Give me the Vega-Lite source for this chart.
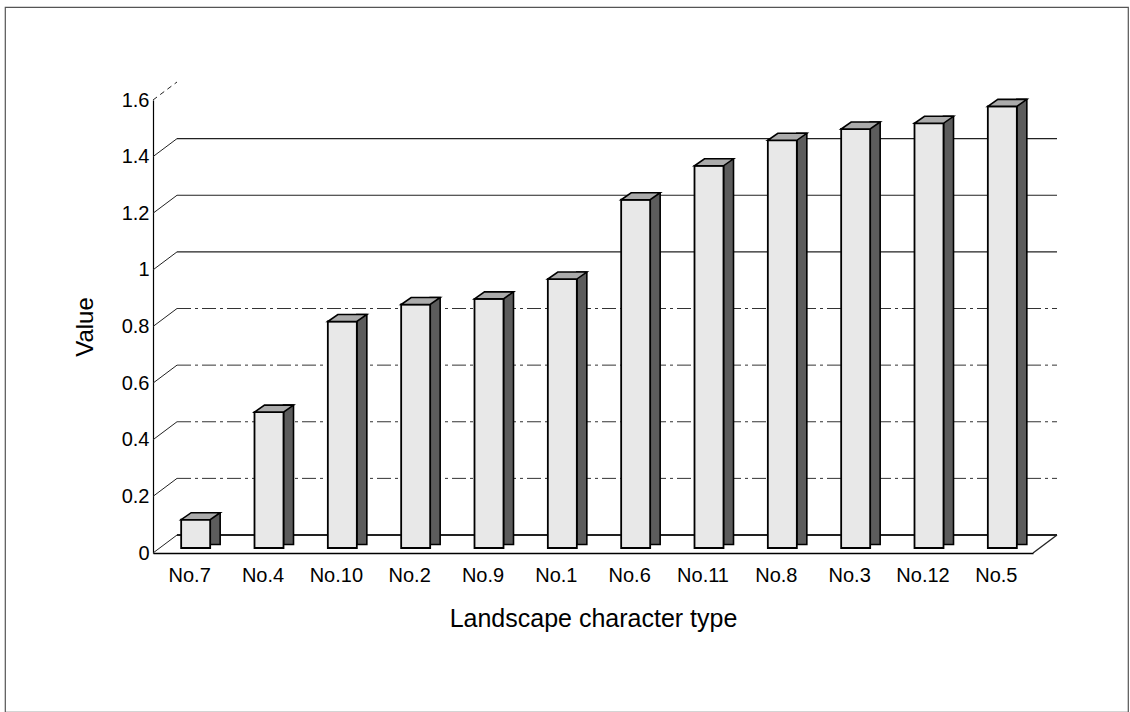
{
  "$schema": "https://vega.github.io/schema/vega-lite/v6.json",
  "width": 1123,
  "height": 705,
  "autosize": {"type": "none"},
  "padding": {"left": 5, "top": 7, "right": 2, "bottom": 0},
  "background": "white",
  "config": {
    "view": {"stroke": "#555", "strokeWidth": 1.2},
    "font": "Liberation Sans"
  },
  "datasets": {
    "bars": [
      {"type": "No.7", "value": 0.10},
      {"type": "No.4", "value": 0.48},
      {"type": "No.10", "value": 0.80},
      {"type": "No.2", "value": 0.86},
      {"type": "No.9", "value": 0.88},
      {"type": "No.1", "value": 0.95},
      {"type": "No.6", "value": 1.23},
      {"type": "No.11", "value": 1.35},
      {"type": "No.8", "value": 1.44},
      {"type": "No.3", "value": 1.48},
      {"type": "No.12", "value": 1.50},
      {"type": "No.5", "value": 1.56}
    ],
    "gridDash": [{"v": 0.2}, {"v": 0.4}, {"v": 0.6}, {"v": 0.8}],
    "gridSolid": [{"v": 1.0}, {"v": 1.2}, {"v": 1.4}],
    "floor": [{"v": 0}],
    "diag": [{"v": 0}, {"v": 0.2}, {"v": 0.4}, {"v": 0.6}, {"v": 0.8}, {"v": 1.0}, {"v": 1.2}, {"v": 1.4}],
    "diagTop": [{"v": 1.6}]
  },
  "layer": [
    {
      "data": {"name": "gridDash"},
      "mark": {"type": "rule", "xOffset": 24, "x2Offset": 24, "yOffset": -18, "stroke": "#333", "strokeWidth": 1, "strokeDash": [14, 4, 3, 4]},
      "encoding": {
        "x": {"datum": "No.7", "type": "nominal", "bandPosition": 0, "title": "Landscape character type"},
        "x2": {"datum": "No.5", "bandPosition": 1},
        "y": {"field": "v", "type": "quantitative", "title": "Value"}
      }
    },
    {
      "data": {"name": "gridSolid"},
      "mark": {"type": "rule", "xOffset": 24, "x2Offset": 24, "yOffset": -18, "stroke": "#222", "strokeWidth": 1.1},
      "encoding": {
        "x": {"datum": "No.7", "type": "nominal", "bandPosition": 0, "title": "Landscape character type"},
        "x2": {"datum": "No.5", "bandPosition": 1},
        "y": {"field": "v", "type": "quantitative", "title": "Value"}
      }
    },
    {
      "data": {"name": "floor"},
      "mark": {"type": "rule", "xOffset": 24, "x2Offset": 24, "yOffset": -18, "stroke": "#222", "strokeWidth": 1.8},
      "encoding": {
        "x": {"datum": "No.7", "type": "nominal", "bandPosition": 0, "title": "Landscape character type"},
        "x2": {"datum": "No.5", "bandPosition": 1},
        "y": {"field": "v", "type": "quantitative", "title": "Value"}
      }
    },
    {
      "data": {"name": "diag"},
      "mark": {"type": "rule", "x2Offset": 24, "y2Offset": -18, "stroke": "#222", "strokeWidth": 1},
      "encoding": {
        "x": {"datum": "No.7", "type": "nominal", "bandPosition": 0, "title": "Landscape character type"},
        "x2": {"datum": "No.7", "bandPosition": 0},
        "y": {"field": "v", "type": "quantitative", "title": "Value"},
        "y2": {"field": "v"}
      }
    },
    {
      "data": {"name": "diagTop"},
      "mark": {"type": "rule", "x2Offset": 24, "y2Offset": -18, "stroke": "#222", "strokeWidth": 1, "strokeDash": [5, 4]},
      "encoding": {
        "x": {"datum": "No.7", "type": "nominal", "bandPosition": 0, "title": "Landscape character type"},
        "x2": {"datum": "No.7", "bandPosition": 0},
        "y": {"field": "v", "type": "quantitative", "title": "Value"},
        "y2": {"field": "v"}
      }
    },
    {
      "data": {"name": "floor"},
      "mark": {"type": "rule", "x2Offset": 24, "y2Offset": -18, "stroke": "#222", "strokeWidth": 1.3},
      "encoding": {
        "x": {"datum": "No.5", "type": "nominal", "bandPosition": 1, "title": "Landscape character type"},
        "x2": {"datum": "No.5", "bandPosition": 1},
        "y": {"field": "v", "type": "quantitative", "title": "Value"},
        "y2": {"field": "v"}
      }
    },
    {
      "data": {"name": "bars"},
      "mark": {"type": "bar", "width": 10, "xOffset": 25.5, "yOffset": -12, "y2Offset": -8.5, "fill": "#5c5c5c", "stroke": "black", "strokeWidth": 1.6},
      "encoding": {
        "x": {"field": "type", "type": "nominal", "sort": null, "title": "Landscape character type"},
        "y": {"field": "value", "type": "quantitative", "title": "Value"},
        "y2": {"datum": 0}
      }
    },
    {
      "data": {"name": "bars"},
      "mark": {"type": "bar", "width": 29, "xOffset": 6, "yOffset": -5, "y2Offset": -5, "fill": "#e8e8e8", "stroke": "black", "strokeWidth": 1.8},
      "encoding": {
        "x": {
          "field": "type",
          "type": "nominal",
          "sort": null,
          "title": "Landscape character type",
          "scale": {
            "type": "band",
            "domain": ["No.7", "No.4", "No.10", "No.2", "No.9", "No.1", "No.6", "No.11", "No.8", "No.3", "No.12", "No.5"],
            "range": [148, 1028],
            "paddingInner": 0,
            "paddingOuter": 0
          },
          "axis": {
            "offset": -159,
            "labelAngle": 0,
            "labelAlign": "center",
            "labelBaseline": "top",
            "ticks": false,
            "grid": false,
            "domainColor": "black",
            "domainWidth": 1.5,
            "labelFont": "Liberation Sans",
            "labelFontSize": 20,
            "labelColor": "black",
            "labelPadding": 12,
            "title": "Landscape character type",
            "titleFont": "Liberation Sans",
            "titleFontSize": 25,
            "titleFontWeight": "normal",
            "titleColor": "black",
            "titlePadding": 21
          }
        },
        "y": {
          "field": "value",
          "type": "quantitative",
          "title": "Value",
          "scale": {"domain": [0, 1.6], "range": [546, 93], "nice": false, "zero": true},
          "axis": {
            "offset": -148,
            "values": [0, 0.2, 0.4, 0.6, 0.8, 1, 1.2, 1.4, 1.6],
            "format": "~g",
            "ticks": false,
            "grid": false,
            "domainColor": "black",
            "domainWidth": 1.2,
            "labelFont": "Liberation Sans",
            "labelFontSize": 20,
            "labelColor": "black",
            "labelPadding": 4,
            "title": "Value",
            "titleFont": "Liberation Sans",
            "titleFontSize": 24,
            "titleFontWeight": "normal",
            "titleColor": "black",
            "titlePadding": 24
          }
        },
        "y2": {"datum": 0}
      }
    },
    {
      "data": {"name": "bars"},
      "mark": {"type": "point", "shape": "M-0.975,0.175L0.475,0.175L0.975,-0.175L-0.475,-0.175Z", "size": 1600, "xOffset": 11, "yOffset": -8.5, "filled": true, "fill": "#ababab", "stroke": "black", "strokeWidth": 1.6, "opacity": 1, "strokeJoin": "miter"},
      "encoding": {
        "x": {"field": "type", "type": "nominal", "sort": null, "title": "Landscape character type"},
        "y": {"field": "value", "type": "quantitative", "title": "Value"}
      }
    }
  ]
}
